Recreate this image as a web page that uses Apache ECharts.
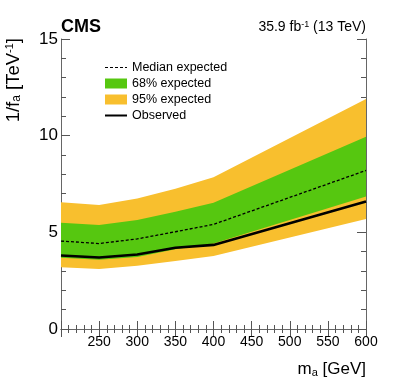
<!DOCTYPE html>
<html>
<head>
<meta charset="utf-8">
<script src="https://cdn.jsdelivr.net/npm/echarts@6/dist/echarts.min.js"></script>
<style>
html, body { margin: 0; padding: 0; background: #fff; }
#chart { width: 407px; height: 391px; }
</style>
</head>
<body>
<div id="chart"></div>
<script>
// mass points (GeV) and limits on 1/f_a (TeV^-1)
var massPoints = [200, 250, 300, 350, 400, 600];
var observed = [3.8, 3.7, 3.85, 4.2, 4.35, 6.6];
var median = [4.55, 4.42, 4.66, 5.03, 5.41, 8.2];
var lower68 = [3.68, 3.58, 3.72, 4.12, 4.42, 6.85];
var upper68 = [5.5, 5.38, 5.64, 6.07, 6.53, 9.95];
var lower95 = [3.19, 3.1, 3.27, 3.52, 3.78, 5.69];
var upper95 = [6.55, 6.42, 6.75, 7.25, 7.85, 11.9];
var xTicks = [250, 300, 350, 400, 450, 500, 550, 600];
var yTicks = [0, 5, 10, 15];

var green = '#56c710';
var yellow = '#f8bf2e';
var font = 'Liberation Sans, Arial, sans-serif';

var pairs = function(vals) {
	return massPoints.map(function(m, i) { return [m, vals[i]]; });
};
var triples = function(lo, hi) {
	return massPoints.map(function(m, i) { return [m, lo[i], hi[i]]; });
};

// band drawn as one polygon: upper edge left->right, lower edge right->left
var bandSeries = function(name, lo, hi, color, z) {
	return {
		name: name,
		type: 'custom',
		data: triples(lo, hi),
		encode: { x: 0, y: [1, 2] },
		itemStyle: { color: color },
		silent: true,
		z: z,
		renderItem: function(params, api) {
			if (params.dataIndex !== 0) return;
			var pts = [];
			var i;
			for (i = 0; i < massPoints.length; i++) pts.push(api.coord([massPoints[i], hi[i]]));
			for (i = massPoints.length - 1; i >= 0; i--) pts.push(api.coord([massPoints[i], lo[i]]));
			return {
				type: 'polygon',
				shape: { points: pts },
				style: { fill: color, stroke: null }
			};
		}
	};
};

var axisCommon = {
	axisLine: { show: true, lineStyle: { color: '#666', width: 1 } },
	axisTick: { show: true, inside: true, length: 8, lineStyle: { color: '#555' } },
	minorTick: { show: true, splitNumber: 5, length: 4, lineStyle: { color: '#555' } },
	splitLine: { show: false }
};

var chart = echarts.init(document.getElementById('chart'));
var option = {
	animation: false,
	backgroundColor: '#fff',
	grid: { left: 61, right: 41, top: 39, bottom: 62 },
	legend: {
		orient: 'vertical',
		left: 105,
		top: 61,
		padding: 0,
		itemWidth: 22,
		itemHeight: 10,
		itemGap: 3,
		textStyle: { fontFamily: font, fontSize: 12.5, color: '#000' },
		data: [
			{ name: 'Median expected', icon: 'path://M0,0L3,0L3,1L0,1Z M5,0L8,0L8,1L5,1Z M10,0L13,0L13,1L10,1Z M15,0L18,0L18,1L15,1Z M20,0L22,0L22,1L20,1Z', itemStyle: { color: '#000' } },
			{ name: '68% expected', icon: 'rect', itemStyle: { color: green } },
			{ name: '95% expected', icon: 'rect', itemStyle: { color: yellow } },
			{ name: 'Observed', icon: 'path://M0,0L22,0L22,2L0,2Z', itemStyle: { color: '#000' } }
		]
	},
	xAxis: [
		Object.assign({}, axisCommon, {
			type: 'value', min: 200, max: 600, interval: 50,
			axisLabel: {
				fontFamily: font, fontSize: 14, color: '#000', margin: 6,
				formatter: function(v) { return xTicks.indexOf(v) >= 0 ? String(v) : ''; }
			}
		}),
		Object.assign({}, axisCommon, {
			type: 'value', min: 200, max: 600, interval: 50, position: 'top',
			axisLabel: { show: false }
		})
	],
	yAxis: [
		Object.assign({}, axisCommon, {
			type: 'value', min: 0, max: 15, interval: 5,
			axisTick: { show: true, inside: true, length: 9, lineStyle: { color: '#555' } },
			minorTick: { show: true, splitNumber: 5, length: 5, lineStyle: { color: '#555' } },
			axisLabel: {
				fontFamily: font, fontSize: 17, color: '#000', margin: 3,
				formatter: function(v) { return yTicks.indexOf(v) >= 0 ? String(v) : ''; }
			}
		}),
		Object.assign({}, axisCommon, {
			type: 'value', min: 0, max: 15, interval: 5, position: 'right',
			axisTick: { show: true, inside: true, length: 9, lineStyle: { color: '#555' } },
			minorTick: { show: true, splitNumber: 5, length: 5, lineStyle: { color: '#555' } },
			axisLabel: { show: false }
		})
	],
	series: [
		bandSeries('95% expected', lower95, upper95, yellow, 1),
		bandSeries('68% expected', lower68, upper68, green, 2),
		{
			name: 'Median expected', type: 'line', data: pairs(median), symbol: 'none',
			lineStyle: { color: '#000', width: 1.3, type: [3, 2] }, itemStyle: { color: '#000' }, z: 3
		},
		{
			name: 'Observed', type: 'line', data: pairs(observed), symbol: 'none',
			lineStyle: { color: '#000', width: 2.6 }, itemStyle: { color: '#000' }, z: 4
		}
	],
	graphic: [
		{
			type: 'text', left: 61, top: 18,
			style: { text: 'CMS', fontFamily: font, fontSize: 18, fontWeight: 'bold', fill: '#000' }
		},
		{
			type: 'text', right: 41, top: 20,
			style: {
				text: '35.9 fb{p|-1} (13 TeV)', fontFamily: font, fontSize: 14, fill: '#000',
				rich: { p: { fontSize: 9, verticalAlign: 'top', lineHeight: 10, fontFamily: font } }
			}
		},
		{
			type: 'text', right: 41, top: 361,
			style: {
				text: 'm{s|a} [GeV]', fontFamily: font, fontSize: 17, fill: '#000',
				rich: { s: { fontSize: 11, verticalAlign: 'bottom', lineHeight: 14, fontFamily: font } }
			}
		},
		{
			type: 'text', x: 4, y: 38, rotation: Math.PI / 2,
			style: {
				text: '1/f{s|a} [TeV{p|-1}]', fontFamily: font, fontSize: 18.5, fill: '#000',
				align: 'right', verticalAlign: 'top',
				rich: {
					s: { fontSize: 12, verticalAlign: 'bottom', lineHeight: 15, fontFamily: font },
					p: { fontSize: 11, verticalAlign: 'top', lineHeight: 11, fontFamily: font }
				}
			}
		}
	]
};
chart.setOption(option);
</script>
</body>
</html>
